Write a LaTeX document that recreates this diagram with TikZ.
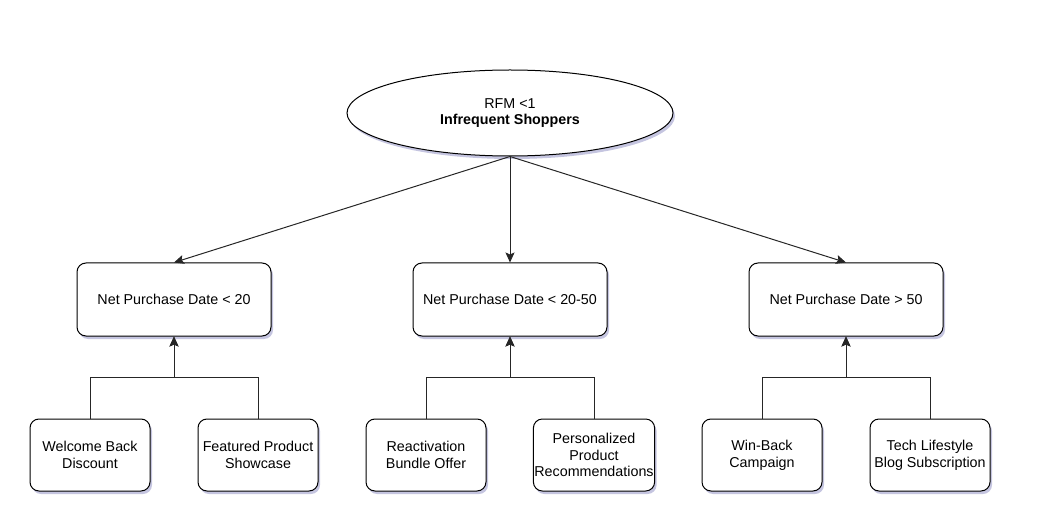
\documentclass[tikz,border=0pt]{standalone}
\usepackage{fontspec}
\setmainfont{Liberation Sans}
\usetikzlibrary{arrows.meta, shapes.geometric, shadows}

\tikzset{
    boxshadow/.style={drop shadow={shadow xshift=2pt, shadow yshift=-3pt, opacity=0.35, fill=blue!30!gray}},
    rootnode/.style={ellipse, draw, fill=white, line width=1pt, minimum width=326pt, minimum height=86pt, inner sep=0pt, align=center, boxshadow},
    condbox/.style={draw, fill=white, line width=1pt, rounded corners=9pt, minimum width=194pt, minimum height=73pt, align=center, boxshadow},
    offerbox/.style={condbox, minimum width=120pt, minimum height=72pt, inner sep=1pt},
    link/.style={line width=1pt, draw=black!85, -{Stealth[length=10pt, width=9pt, inset=2pt]}},
}

\begin{document}
\begin{tikzpicture}[x=1pt, y=-1pt, font=\fontsize{14.3}{16.8}\selectfont]
    \useasboundingbox (0,0) rectangle (1056,526);

    % Root segment
    \node[rootnode] (root) at (510,113) {RFM <1\\\textbf{Infrequent Shoppers}};

    % Purchase date conditions
    \node[condbox] (c1) at (174,299.5) {Net Purchase Date < 20};
    \node[condbox] (c2) at (510,299.5) {Net Purchase Date < 20-50};
    \node[condbox] (c3) at (846,299.5) {Net Purchase Date > 50};
    \foreach \c in {c1,c2,c3} {
        \draw[link] (root.south) -- (\c.north);
    }

    % Offers (bottom row)
    \node[offerbox] (welcome) at (90,455) {Welcome Back\\Discount};
    \node[offerbox] (featured) at (258,455) {Featured Product\\Showcase};
    \node[offerbox] (reactivate) at (426,455) {Reactivation\\Bundle Offer};
    \node[offerbox] (personal) at (594,455) {Personalized\\Product\\Recommendations};
    \node[offerbox] (winback) at (762,455) {Win-Back\\Campaign};
    \node[offerbox] (blog) at (930,455) {Tech Lifestyle\\Blog Subscription};

    % Joins under each condition
    \coordinate (j1) at (174,377.5);
    \coordinate (j2) at (510,377.5);
    \coordinate (j3) at (846,377.5);
    \foreach \o/\j/\c in {welcome/j1/c1, featured/j1/c1, reactivate/j2/c2, personal/j2/c2, winback/j3/c3, blog/j3/c3} {
        \draw[link] (\o.north) |- (\j) -- (\c.south);
    }
\end{tikzpicture}
\end{document}
